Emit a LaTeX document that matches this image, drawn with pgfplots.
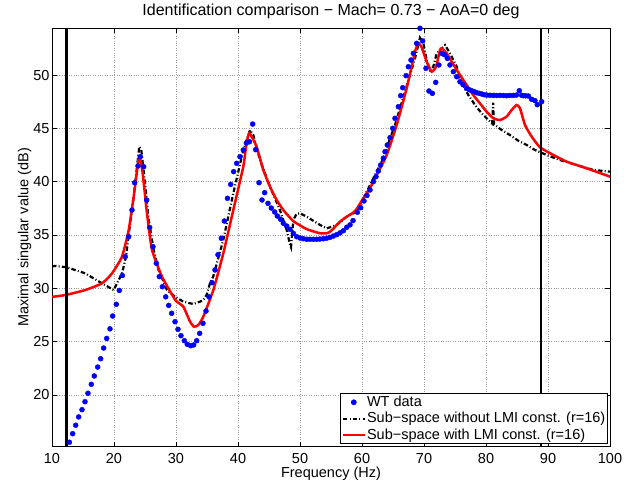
\documentclass[border=0pt]{standalone}
\usepackage{fontspec}
\setmainfont{Liberation Sans}
\usepackage{pgfplots}
\pgfplotsset{compat=1.18}
\newcommand\f{\fontsize{14.5}{17}\selectfont}
\newcommand\ft{\fontsize{16}{19}\selectfont}
\pgfplotsset{
  linelegend/.style={legend image code/.code={\draw[##1] (0pt,0pt) -- (22pt,0pt);}},
  marklegend/.style={legend image code/.code={\draw[mark repeat=2,mark phase=2,##1] plot coordinates {(0pt,0pt) (11pt,0pt) (22pt,0pt)};}},
}
\begin{document}
\f
\begin{tikzpicture}
\begin{axis}[
  scale only axis, width=558pt, height=418.4pt,
  xmin=10, xmax=100, ymin=15.15, ymax=54.38,
  xtick={10,20,...,100}, ytick={20,25,...,50},
  tick align=inside, tick pos=both, major tick length=5pt,
  grid=major, major grid style={dotted, black!40, line width=0.6pt},
  axis line style={line width=0.7pt},
  every tick/.style={black, line width=0.7pt},
  /pgf/number format/assume math mode=true,
  ticklabel style={font=\f, inner sep=0pt},
  xticklabel style={yshift=-6pt},
  yticklabel style={xshift=-2.3pt},
  every axis title shift=0pt,
  xlabel={Frequency (Hz)}, ylabel={Maximal singular value (dB)},
  title={Identification comparison − Mach= 0.73 − AoA=0 deg},
  xlabel style={font=\f, inner sep=0pt, at={(axis description cs:0.5,-0.0640)}, anchor=center},
  ylabel style={font=\f, inner sep=0pt, at={(axis description cs:-0.0490,0.5)}, anchor=center},
  title style={font=\ft, inner sep=0pt, at={(axis description cs:0.5,1.0397)}, anchor=center},
  legend style={at={(rel axis cs:1,0)}, anchor=south east, xshift=-2.3pt, yshift=2.7pt,
    draw=black, line width=0.7pt, font=\f, inner xsep=1pt, inner ysep=1.3pt, row sep=1.7pt,
    nodes={inner sep=1pt}},
  legend cell align=left,
]
\addplot[only marks, mark=*, mark size=2.5pt, color=blue, mark options={draw=blue, fill=blue}, marklegend]
coordinates {
(12.31,15.09)(12.80,15.57)(13.33,16.37)(13.82,17.16)(14.30,17.94)(14.84,18.62)
(15.32,19.37)(15.80,20.16)(16.34,21.00)(16.82,21.78)(17.37,22.62)(17.85,23.40)
(18.33,24.40)(18.82,25.30)(19.35,26.20)(19.78,27.40)(20.37,28.50)(20.85,29.80)
(21.34,31.20)(21.82,32.97)(22.36,34.84)(22.90,37.34)(23.33,39.90)(23.87,41.47)
(24.24,42.34)(24.79,41.40)(25.27,38.28)(25.76,35.70)(26.29,33.90)(26.82,32.35)
(27.31,31.10)(27.80,30.15)(28.34,29.20)(28.82,28.40)(29.30,27.66)(29.84,26.87)
(30.32,26.16)(30.80,25.56)(31.34,25.09)(31.82,24.75)(32.37,24.62)(32.85,24.69)
(33.34,25.09)(33.82,25.78)(34.35,26.72)(34.84,27.87)(35.32,29.20)(35.80,30.53)
(36.29,31.72)(36.77,33.15)(37.31,34.69)(37.80,36.31)(38.30,38.44)(38.82,39.75)
(39.30,40.94)(39.79,41.72)(40.32,42.34)(40.86,42.97)(41.35,43.62)(41.85,43.74)
(42.37,45.40)(42.85,43.00)(43.39,39.90)(43.87,38.28)(44.30,38.97)(44.84,37.97)
(45.37,37.53)(45.91,37.16)(46.34,36.78)(46.88,36.47)(47.31,36.10)(47.85,35.84)
(48.39,35.53)(48.92,35.16)(49.46,34.84)(50.00,34.72)(50.53,34.65)(51.08,34.60)
(51.60,34.60)(52.15,34.60)(52.69,34.60)(53.20,34.62)(53.76,34.65)(54.30,34.70)
(54.84,34.78)(55.38,34.90)(55.92,35.03)(56.45,35.20)(56.99,35.40)(57.53,35.72)
(58.07,35.95)(58.55,36.35)(59.25,37.13)(59.79,37.56)(60.32,38.19)(60.80,38.70)
(61.29,39.22)(61.83,40.00)(62.26,40.47)(62.63,41.00)(63.00,41.56)(63.44,42.19)
(63.71,42.81)(64.08,43.44)(64.52,44.13)(64.95,45.00)(65.32,45.94)(65.86,47.03)
(66.24,48.06)(66.56,48.81)(67.10,49.94)(67.47,50.78)(67.90,51.40)(68.28,52.03)
(68.82,52.97)(69.35,54.38)(69.78,53.19)(70.32,50.63)(70.80,48.50)(71.34,48.28)
(71.89,49.31)(72.40,50.94)(72.85,52.03)(73.30,51.90)(73.76,51.56)(74.19,50.94)
(74.73,50.31)(75.27,49.84)(75.80,49.37)(76.30,49.10)(76.88,48.75)(77.30,48.62)
(77.69,48.53)(78.10,48.44)(78.50,48.34)(78.90,48.28)(79.30,48.22)(79.70,48.15)
(80.10,48.12)(80.64,48.10)(81.18,48.09)(81.72,48.08)(82.26,48.09)(82.80,48.08)
(83.33,48.06)(83.87,48.08)(84.41,48.09)(84.90,48.12)(85.37,48.53)(85.75,48.10)
(86.02,48.06)(86.40,48.05)(86.83,48.03)(87.37,47.72)(87.90,47.60)(88.27,47.22)
(88.98,47.50)
};
\addlegendentry{WT data}
\addplot[black, line width=2.2pt, dash pattern=on 4.5pt off 2.2pt on 1pt off 2.2pt, linelegend]
coordinates {
(10.00,32.05)(10.50,32.10)(12.40,31.97)(15.37,31.40)(18.06,30.47)(19.95,29.84)
(21.29,31.40)(21.94,32.97)(22.47,35.47)(23.18,38.60)(23.71,41.40)(24.08,43.28)
(24.40,42.97)(24.95,40.16)(25.60,36.40)(26.40,33.60)(27.20,31.70)(28.55,29.84)
(29.89,29.20)(31.18,28.75)(32.26,28.60)(32.79,28.53)(33.87,28.75)(34.40,28.90)
(34.95,29.40)(35.48,30.47)(36.00,31.10)(37.62,34.53)(39.24,38.90)(40.85,42.97)
(41.94,44.84)(42.47,44.37)(43.55,42.03)(45.16,39.53)(46.77,37.34)(47.85,35.47)
(48.39,34.10)(48.55,33.85)(48.92,36.40)(49.46,37.00)(50.00,37.03)(51.08,36.72)
(53.23,35.94)(54.30,35.62)(55.92,35.94)(57.53,36.72)(59.15,37.20)(61.29,39.69)
(62.37,40.94)(63.18,41.87)(63.98,43.12)(64.52,44.06)(65.32,45.31)(66.13,46.88)
(66.94,48.44)(67.74,50.00)(68.55,51.56)(69.35,53.50)(69.90,52.97)(70.43,51.40)
(70.97,50.47)(71.50,50.78)(72.05,52.03)(73.39,52.81)(74.20,52.03)(75.27,50.78)
(76.08,49.30)(77.15,48.12)(78.23,47.19)(79.30,46.41)(80.38,45.78)(81.00,45.45)
(81.15,47.40)(81.30,45.35)(81.45,45.31)(82.53,44.84)(83.87,44.37)(85.21,43.84)
(86.56,43.44)(87.90,42.97)(89.78,42.50)(91.94,42.03)(94.63,41.56)(97.31,41.10)
(100.00,40.94)
};
\addlegendentry{Sub−space without LMI const. (r=16)}
\addplot[red, line width=2.5pt, smooth, tension=0.3, linelegend]
coordinates {
(10.00,29.20)(12.15,29.37)(15.37,29.84)(18.06,30.47)(19.68,31.40)(21.29,32.97)
(22.37,35.47)(23.18,38.60)(23.87,41.72)(24.14,42.40)(24.63,40.78)(25.32,37.03)
(26.13,33.60)(27.74,31.10)(29.89,28.90)(31.18,28.28)(32.26,26.88)(32.90,26.40)
(33.60,26.56)(34.40,27.34)(36.02,29.84)(37.63,33.28)(39.24,37.34)(40.85,41.40)
(41.35,43.50)(41.83,44.55)(43.00,43.28)(44.08,41.10)(45.16,39.53)(46.24,38.28)
(47.31,37.34)(48.92,36.30)(51.08,35.55)(53.23,35.16)(54.30,35.16)(54.84,35.31)
(55.40,35.60)(55.92,35.95)(56.45,36.25)(57.53,36.72)(58.60,37.10)(59.15,37.45)
(60.21,38.44)(61.29,39.40)(62.37,40.63)(63.98,42.50)(65.59,45.31)(67.20,48.75)
(68.55,52.19)(69.10,52.97)(69.62,52.60)(70.43,51.25)(71.24,50.31)(71.94,50.78)
(72.58,52.34)(72.85,52.50)(73.66,52.03)(75.27,50.47)(76.88,49.06)(77.95,48.12)
(79.03,47.34)(80.10,46.56)(81.18,45.94)(82.26,45.78)(83.33,46.10)(84.14,46.72)
(84.95,47.19)(85.48,46.88)(86.29,45.31)(87.37,44.22)(88.71,43.22)(90.86,42.50)
(93.02,41.87)(96.24,41.25)(100.00,40.47)
};
\addlegendentry{Sub−space with LMI const. (r=16)}
\addplot[black, line width=2.2pt, forget plot] coordinates {(12.35,10) (12.35,60)};
\addplot[black, line width=2.2pt, forget plot] coordinates {(88.85,10) (88.85,60)};
\coordinate (SW) at (rel axis cs:0,0);
\end{axis}
\path (SW) ++(-52pt,-38.3pt) rectangle ++(644pt,485pt);
\end{tikzpicture}
\end{document}
